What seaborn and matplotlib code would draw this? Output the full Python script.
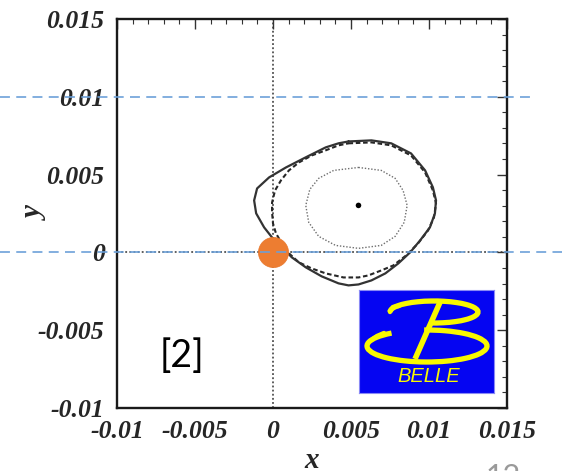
import numpy as np
import pandas as pd
import matplotlib
matplotlib.use("Agg")
import matplotlib.pyplot as plt
import matplotlib.transforms as mtransforms
from matplotlib.patches import Arc
from matplotlib.ticker import MultipleLocator, FixedLocator, FixedFormatter
import seaborn as sns

# ---------------- data ----------------
solid_x = [0.00484, 0.00631, 0.00758, 0.00885, 0.00975, 0.01025, 0.01045, 0.01038,
           0.01006, 0.00943, 0.00879, 0.00803, 0.00720, 0.00631, 0.00548, 0.00484,
           0.00420, 0.00312, 0.00210, 0.00121, 0.00057, -0.00006, -0.00057, -0.00108,
           -0.00121, -0.00102, -0.00025, 0.00083, 0.00210, 0.00338, 0.00420]
solid_y = [0.00713, 0.00720, 0.00701, 0.00636, 0.00527, 0.00418, 0.00334, 0.00251,
           0.00161, 0.00077, 0.00000, -0.00071, -0.00135, -0.00180, -0.00206, -0.00212,
           -0.00199, -0.00154, -0.00096, -0.00032, 0.00032, 0.00096, 0.00161, 0.00251,
           0.00334, 0.00411, 0.00482, 0.00546, 0.00611, 0.00675, 0.00701]

dashed_x = [0.00484, 0.00631, 0.00758, 0.00885, 0.00975, 0.01025, 0.01045, 0.01032,
            0.00994, 0.00930, 0.00854, 0.00771, 0.00694, 0.00611, 0.00548, 0.00452,
            0.00338, 0.00248, 0.00166, 0.00102, 0.00057, 0.00019, 0.00000, -0.00006,
            -0.00006, 0.00013, 0.00051, 0.00102, 0.00166, 0.00248, 0.00338, 0.00420]
dashed_y = [0.00701, 0.00707, 0.00688, 0.00623, 0.00514, 0.00398, 0.00315, 0.00225,
            0.00141, 0.00058, -0.00019, -0.00084, -0.00116, -0.00148, -0.00161, -0.00161,
            -0.00135, -0.00103, -0.00064, -0.00006, 0.00058, 0.00122, 0.00186, 0.00257,
            0.00321, 0.00398, 0.00463, 0.00527, 0.00578, 0.00623, 0.00656, 0.00688]

inner_x = [0.00548, 0.00694, 0.00783, 0.00834, 0.00860, 0.00841, 0.00783, 0.00694,
           0.00548, 0.00401, 0.00293, 0.00229, 0.00210, 0.00236, 0.00293, 0.00389]
inner_y = [0.00546, 0.00527, 0.00476, 0.00398, 0.00302, 0.00193, 0.00103, 0.00045,
           0.00026, 0.00045, 0.00103, 0.00193, 0.00302, 0.00405, 0.00476, 0.00527]

best_fit = {"x": [0.00548], "y": [0.00302]}
origin = {"x": [0.0], "y": [0.0]}

x_ticks = [-0.01, -0.005, 0.0, 0.005, 0.01, 0.015]
x_tick_labels = ["-0.01", "-0.005", "0", "0.005", "0.01", "0.015"]
y_ticks = [-0.01, -0.005, 0.0, 0.005, 0.01, 0.015]
y_tick_labels = ["-0.01", "-0.005", "0", "0.005", "0.01", "0.015"]
guide_levels = [0.0, 0.01]          # blue dashed slide guide lines (y values)

# ---------------- figure ----------------
sns.set_style("white")
plt.rcParams["font.family"] = ["Liberation Serif", "DejaVu Serif"]

W, H = 562, 471
fig = plt.figure(figsize=(W / 100, H / 100), dpi=100)
L, R, T, B = 117, 507, 19, 408
ax = fig.add_axes([L / W, 1 - B / H, (R - L) / W, (B - T) / H])
ax.set_facecolor("white")

def closed(xs, ys):
    return pd.DataFrame({"x": list(xs) + [xs[0]], "y": list(ys) + [ys[0]]})

# reference zero lines
ax.axvline(0, color="#333333", lw=1.1, ls=(0, (1.2, 1.5)), zorder=1)
ax.axhline(0, color="#333333", lw=1.1, ls=(0, (1.2, 1.5)), zorder=1)

sns.lineplot(data=closed(inner_x, inner_y), x="x", y="y", sort=False, estimator=None,
             ax=ax, color="#6e6e6e", lw=1.0, linestyle=(0, (1.0, 1.3)), zorder=2)
sns.lineplot(data=closed(dashed_x, dashed_y), x="x", y="y", sort=False, estimator=None,
             ax=ax, color="#262626", lw=1.5, linestyle=(0, (2.2, 1.3)), zorder=3)
sns.lineplot(data=closed(solid_x, solid_y), x="x", y="y", sort=False, estimator=None,
             ax=ax, color="#333333", lw=1.6, zorder=3)
sns.scatterplot(data=pd.DataFrame(best_fit), x="x", y="y", ax=ax, color="black",
                s=16, edgecolor="none", zorder=4)
sns.scatterplot(data=pd.DataFrame(origin), x="x", y="y", ax=ax, color="#ED7D31",
                s=470, edgecolor="#E8772C", linewidth=0.5, zorder=5, clip_on=False)

ax.set_xlim(-0.01, 0.015)
ax.set_ylim(-0.01, 0.015)

tick_font = dict(family="Liberation Serif", weight="bold", style="italic", size=18.5)
ax.xaxis.set_major_locator(FixedLocator(x_ticks))
ax.xaxis.set_major_formatter(FixedFormatter(x_tick_labels))
ax.yaxis.set_major_locator(FixedLocator(y_ticks))
ax.yaxis.set_major_formatter(FixedFormatter(y_tick_labels))
ax.xaxis.set_minor_locator(MultipleLocator(0.001))
ax.yaxis.set_minor_locator(MultipleLocator(0.001))
for lab in ax.get_xticklabels() + ax.get_yticklabels():
    lab.set_fontproperties(matplotlib.font_manager.FontProperties(**tick_font))
ax.tick_params(which="both", direction="in", top=True, right=True, color="#333333")
ax.tick_params(which="major", length=7, width=1.0)
ax.tick_params(which="minor", length=3.5, width=0.8)
ax.tick_params(axis="x", which="major", pad=9)
ax.tick_params(axis="y", which="major", pad=9)
for sp in ax.spines.values():
    sp.set_visible(True)
    sp.set_color("#1a1a1a")
    sp.set_linewidth(1.7)

ax.set_xlabel("x", fontdict=dict(family="Liberation Serif", weight="bold",
                                  style="italic", size=21))
ax.set_ylabel("y", fontdict=dict(family="Liberation Serif", weight="bold",
                                  style="italic", size=21))
ax.xaxis.set_label_coords(0.5, -0.10)
ax.yaxis.set_label_coords(-0.175, 0.5)

# blue dashed slide guide lines (span across the figure)
trans = mtransforms.blended_transform_factory(fig.transFigure, ax.transData)
guide_ends = [1.0, 536 / W]
for lvl, xe in zip(guide_levels, guide_ends):
    ax.plot([0, xe], [lvl, lvl], transform=trans, color="#6A9FD8", lw=1.3,
            ls=(0, (5.5, 3.5)), clip_on=False, zorder=6, alpha=0.9)

# citation label
ax.text((182 - L) / (R - L), (B - 356) / (B - T), "[2]", transform=ax.transAxes,
        family="Lato", size=27, ha="center", va="center", color="black")

# Belle logo
lx0, ly0, lx1, ly1 = 359, 290, 494, 393
lax = fig.add_axes([lx0 / W, 1 - ly1 / H, (lx1 - lx0) / W, (ly1 - ly0) / H])
lw_, lh_ = lx1 - lx0, ly1 - ly0
lax.set_xlim(0, lw_)
lax.set_ylim(0, lh_)
lax.set_facecolor("#0505F2")
lax.set_xticks([])
lax.set_yticks([])
for sp in lax.spines.values():
    sp.set_color("#8a8af5")
    sp.set_linewidth(0.8)
yel = "#F8F800"
lax.add_patch(Arc((75, 81), 88, 22, theta1=250, theta2=180, color=yel, lw=3.8))
lax.add_patch(Arc((68, 47), 120, 32, theta1=160, theta2=100, color=yel, lw=3.8))
lax.plot([82, 56], [93, 34], color=yel, lw=4.0, solid_capstyle="butt")
lax.plot([31, 34, 40], [81, 86, 87], color=yel, lw=3.2, solid_capstyle="round")
lax.plot([11.6, 18, 25], [52.5, 57, 60], color=yel, lw=3.2, solid_capstyle="round")
lax.text(70, 16, "BELLE", color=yel, family="Liberation Sans", style="italic",
         size=14.5, ha="center", va="center")

# partially visible slide number (cut by the bottom edge in the reference too)
fig.text(503 / W, 8 / H, "12", color="#9a9a9a", family="Lato", size=22,
         ha="center", va="top")

fig.savefig("out.png", dpi=100)
